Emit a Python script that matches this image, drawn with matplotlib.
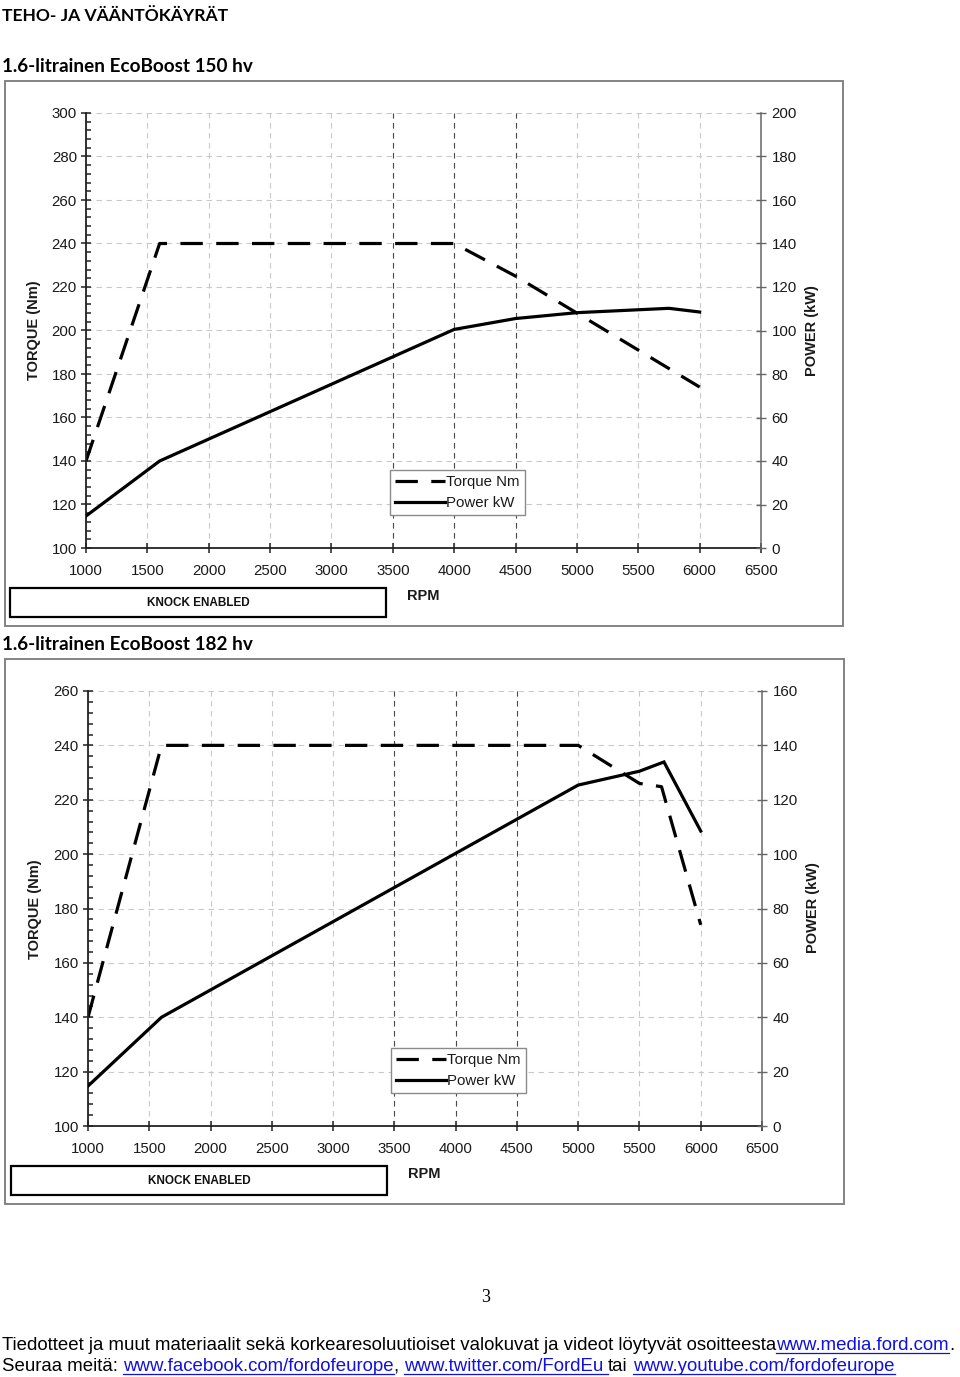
"""
Teho- ja vääntökäyrät — 1.6 EcoBoost 150 hv / 182 hv
"""

import matplotlib
matplotlib.use("Agg")
import matplotlib.pyplot as plt
from matplotlib import font_manager
from matplotlib.lines import Line2D
from matplotlib.patches import Rectangle
from matplotlib.ticker import MultipleLocator

# ── Page size (pixels) ─────────────────────────────────────────────────────
W, H = 960, 1377
DPI = 100

# ── Data ───────────────────────────────────────────────────────────────────
RPM_TICKS = [1000, 1500, 2000, 2500, 3000, 3500, 4000, 4500, 5000, 5500, 6000, 6500]
DARK_GRID_RPM = [3500, 4000, 4500]

rpm_150_torque = [1000, 1600, 4000, 4500, 5000, 5500, 6000]
torque_150 = [140, 240, 240, 225, 208, 191, 174]
rpm_150_power = [1000, 1600, 4000, 4500, 5000, 5750, 6000]
power_150 = [14.7, 40, 100.5, 105.5, 108.2, 110.2, 108.5]

rpm_182_torque = [1000, 1600, 5000, 5500, 5680, 6000]
torque_182 = [140, 240, 240, 226, 224.8, 174]
rpm_182_power = [1000, 1600, 5000, 5500, 5700, 6000]
power_182 = [14.7, 40, 125.4, 130.5, 133.9, 108.5]

TITLE = "TEHO- JA VÄÄNTÖKÄYRÄT"
SUBTITLES = ["1.6-litrainen EcoBoost 150 hv", "1.6-litrainen EcoBoost 182 hv"]
LEGEND_LABELS = ["Torque Nm", "Power kW"]

FOOTER_1 = [("Tiedotteet ja muut materiaalit sekä korkearesoluutioiset valokuvat ja videot löytyvät osoitteesta", False, 0),
            ("www.media.ford.com", True, 0),
            (".", False, 0)]
FOOTER_2 = [("Seuraa meitä:", False, 1),
            ("www.facebook.com/fordofeurope", True, 0),
            (",", False, 1),
            ("www.twitter.com/FordEu", True, 1),
            ("tai", False, 1),
            ("www.youtube.com/fordofeurope", True, 0)]

SANS = "Liberation Sans"
TITLE_FONT = "Lato"
LINK_BLUE = "#1010e0"
names = {f.name for f in font_manager.fontManager.ttflist}
FOOTER_FONT = "Liberation Sans Narrow" if "Liberation Sans Narrow" in names else SANS


def fx(x):
    return x / W


def fy(y):
    return 1 - y / H


def rect(x0, y0, x1, y1):
    return [x0 / W, 1 - y1 / H, (x1 - x0) / W, (y1 - y0) / H]


# ══════════════════════════════════════════════════════════════════════════════
# CHART PANEL
# ══════════════════════════════════════════════════════════════════════════════

def draw_panel(fig, cfg):
    # outer gray frame
    x0, y0, x1, y1 = cfg["frame"]
    fig.add_artist(Rectangle((fx(x0), fy(y1)), (x1 - x0) / W, (y1 - y0) / H,
                             transform=fig.transFigure, fill=False,
                             edgecolor="#7a7a7a", linewidth=1.3))

    ax = fig.add_axes(rect(*cfg["axes"]))
    ax.set_xlim(RPM_TICKS[0], RPM_TICKS[-1])
    ax.set_ylim(*cfg["tlim"])
    ax2 = ax.twinx()
    ax2.set_ylim(*cfg["plim"])

    ax.set_xticks(RPM_TICKS)
    ax.yaxis.set_major_locator(MultipleLocator(20))
    ax.yaxis.set_minor_locator(MultipleLocator(4))
    ax2.yaxis.set_major_locator(MultipleLocator(20))

    grid_ls = (0, (5, 4))
    ax.set_axisbelow(True)
    ax.grid(True, which="major", color="#c9c9c9", linestyle=grid_ls, linewidth=0.8)
    for r in DARK_GRID_RPM:
        ax.axvline(r, color="#4a4a4a", linestyle=grid_ls, linewidth=0.8, zorder=0.6)

    for a in (ax, ax2):
        a.spines["top"].set_visible(False)
    ax.spines["right"].set_visible(False)
    ax2.spines["left"].set_visible(False)
    ax2.spines["bottom"].set_visible(False)
    ax.spines["left"].set_color("#222222")
    ax.spines["bottom"].set_color("#222222")
    ax.spines["left"].set_linewidth(1.3)
    ax.spines["bottom"].set_linewidth(1.3)
    ax2.spines["right"].set_color("#666666")
    ax2.spines["right"].set_linewidth(1.1)

    ax.tick_params(axis="y", which="major", direction="inout", length=7, width=1.1,
                   color="#222222", labelsize=10.8, pad=3, labelcolor="#1a1a1a")
    ax.tick_params(axis="y", which="minor", direction="in", length=3.8, width=1.1, color="#222222")
    ax.tick_params(axis="x", which="major", direction="inout", length=7, width=1.1,
                   color="#222222", labelsize=10.8, pad=8, labelcolor="#1a1a1a")
    ax2.tick_params(axis="y", which="major", direction="inout", length=7, width=1.0,
                    color="#666666", labelsize=10.8, pad=4, labelcolor="#1a1a1a")
    for lab in ax.get_xticklabels() + ax.get_yticklabels() + ax2.get_yticklabels():
        lab.set_fontfamily(SANS)

    # curves
    dash = (0, (7, 4.2))
    ax.plot(cfg["rpm_t"], cfg["torque"], color="black", linewidth=2.3, linestyle=dash,
            solid_joinstyle="miter")
    ax2.plot(cfg["rpm_p"], cfg["power"], color="black", linewidth=2.3,
             solid_joinstyle="miter")

    # axis titles
    tx, ty = cfg["tlabel"]
    fig.text(fx(tx), fy(ty), "TORQUE (Nm)", rotation=90, ha="center", va="center",
             fontsize=10.5, fontweight="bold", family=SANS, color="#1a1a1a")
    px, py = cfg["plabel"]
    fig.text(fx(px), fy(py), "POWER (kW)", rotation=90, ha="center", va="center",
             fontsize=10.5, fontweight="bold", family=SANS, color="#1a1a1a")
    rx, ry = cfg["rpm"]
    fig.text(fx(rx), fy(ry), "RPM", ha="center", va="center",
             fontsize=10.5, fontweight="bold", family=SANS, color="#1a1a1a")

    # knock box
    k0, k1, k2, k3 = cfg["knock"]
    fig.add_artist(Rectangle((fx(k0), fy(k3)), (k2 - k0) / W, (k3 - k1) / H,
                             transform=fig.transFigure, fill=False,
                             edgecolor="black", linewidth=1.6))
    fig.text(fx((k0 + k2) / 2), fy((k1 + k3) / 2), "KNOCK ENABLED", ha="center", va="center",
             fontsize=8.5, fontweight="bold", family=SANS, color="#111111")

    # legend
    handles = [Line2D([], [], color="black", linewidth=2.3, linestyle=dash),
               Line2D([], [], color="black", linewidth=2.3)]
    lx, ly = cfg["legend"]
    leg = ax2.legend(handles, LEGEND_LABELS, loc="upper left",
                     bbox_to_anchor=(fx(lx), fy(ly)), bbox_transform=fig.transFigure,
                     prop={"family": SANS, "size": 10.8}, fancybox=False, framealpha=1,
                     edgecolor="#8a8a8a", borderpad=0.35, labelspacing=0.45,
                     handlelength=3.3, handletextpad=0.1, borderaxespad=0)
    leg.get_frame().set_linewidth(1.0)
    for t in leg.get_texts():
        t.set_color("#1a1a1a")


# ══════════════════════════════════════════════════════════════════════════════
# FOOTER (rich text with underlined links)
# ══════════════════════════════════════════════════════════════════════════════

def text_width(fig, renderer, s, size, family):
    t = fig.text(0, 0, s, fontsize=size, family=family)
    w = t.get_window_extent(renderer).width
    t.remove()
    return w


def draw_rich(fig, renderer, x, baseline, segments, size, family):
    space = text_width(fig, renderer, "x x", size, family) - text_width(fig, renderer, "xx", size, family)
    for s, link, n_space in segments:
        color = LINK_BLUE if link else "black"
        t = fig.text(fx(x), fy(baseline), s, fontsize=size, family=family,
                     color=color, va="baseline", ha="left")
        bb = t.get_window_extent(renderer)
        x_end = bb.x1 + n_space * space
        if link:
            fig.add_artist(Line2D([fx(bb.x0), fx(x_end)], [fy(baseline + 2.5)] * 2,
                                  transform=fig.transFigure, color=LINK_BLUE, linewidth=0.9))
        x = x_end


def main():
    fig = plt.figure(figsize=(W / DPI, H / DPI), dpi=DPI)
    renderer = fig.canvas.get_renderer()

    fig.text(fx(2), fy(21), TITLE, fontsize=12.6, fontweight="bold", family=TITLE_FONT,
             va="baseline", ha="left")
    fig.text(fx(2), fy(72), SUBTITLES[0], fontsize=13.6, fontweight="bold", family=TITLE_FONT,
             va="baseline", ha="left")
    fig.text(fx(2), fy(650), SUBTITLES[1], fontsize=13.6, fontweight="bold", family=TITLE_FONT,
             va="baseline", ha="left")

    panels = [
        dict(frame=(5, 81, 843, 626), axes=(86, 113, 761, 548), tlim=(100, 300), plim=(0, 200),
             rpm_t=rpm_150_torque, torque=torque_150, rpm_p=rpm_150_power, power=power_150,
             tlabel=(34, 330), plabel=(812, 331), rpm=(423, 596),
             knock=(10, 588, 386, 617), legend=(390, 470)),
        dict(frame=(5, 659, 844, 1204), axes=(88, 691, 762, 1126), tlim=(100, 260), plim=(0, 160),
             rpm_t=rpm_182_torque, torque=torque_182, rpm_p=rpm_182_power, power=power_182,
             tlabel=(35, 909), plabel=(813, 908), rpm=(424, 1174),
             knock=(11, 1166, 387, 1195), legend=(391, 1048)),
    ]
    for cfg in panels:
        draw_panel(fig, cfg)

    fig.text(fx(486), fy(1297), "3", fontsize=13, family="Liberation Serif",
             ha="center", va="center")

    # footer: size chosen so the first line fills the page width
    full = "".join(s + " " * n for s, _, n in FOOTER_1)
    w10 = text_width(fig, renderer, full, 10, FOOTER_FONT)
    size = 10 * 956 / w10
    draw_rich(fig, renderer, 2, 1350, FOOTER_1, size, FOOTER_FONT)
    draw_rich(fig, renderer, 2, 1371, FOOTER_2, size, FOOTER_FONT)

    fig.savefig("out.png", dpi=DPI)
    plt.close(fig)


if __name__ == "__main__":
    main()
